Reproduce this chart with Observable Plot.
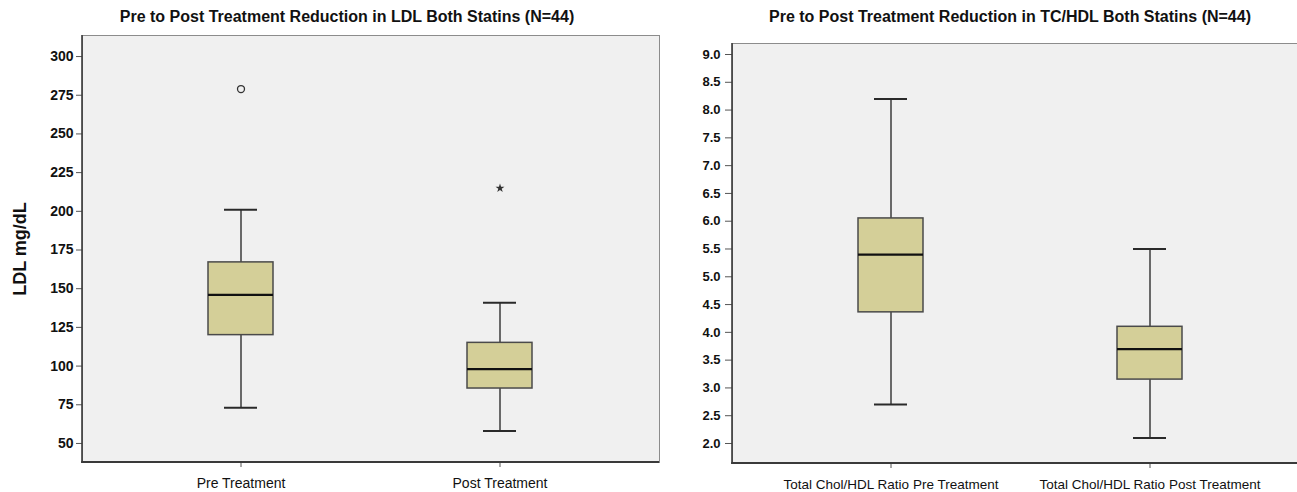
<!DOCTYPE html>
<html><head><meta charset="utf-8">
<script src="https://cdn.jsdelivr.net/npm/d3@7"></script>
<script src="https://cdn.jsdelivr.net/npm/@observablehq/plot@0.6"></script>
<style>
body{margin:0;width:1297px;height:492px;overflow:hidden;background:#fff;font-family:"Liberation Sans",Arial,sans-serif;position:relative}
.panel{position:absolute;top:0;height:492px}
.panel svg{max-width:none !important}
.title{position:absolute;top:8px;font-weight:bold;font-size:16px;color:#111;transform:translateX(-50%);white-space:nowrap}
</style></head><body>
<div id="left" class="panel" style="left:0;width:665px"></div>
<div id="right" class="panel" style="left:665px;width:645px"></div>
<div class="title" style="left:347px">Pre to Post Treatment Reduction in LDL Both Statins (N=44)</div>
<div class="title" style="left:1010px">Pre to Post Treatment Reduction in TC/HDL Both Statins (N=44)</div>
<script>
// ---- LDL panel data ----
const ldlCategories = ["Pre Treatment", "Post Treatment"];
const ldlLow    = [73, 58];
const ldlQ1     = [120, 85.5];
const ldlMedian = [146, 98];
const ldlQ3     = [167, 115];
const ldlHigh   = [201, 141];
const ldlOutlierCategory = ["Pre Treatment", "Post Treatment"];
const ldlOutlierValue    = [279, 215];
const ldlOutlierKind     = ["circle", "star"];
const ldlTicks = [50, 75, 100, 125, 150, 175, 200, 225, 250, 275, 300];
const ldlLabel = "LDL mg/dL";

// ---- TC/HDL panel data ----
const ratioCategories = ["Total Chol/HDL Ratio Pre Treatment", "Total Chol/HDL Ratio Post Treatment"];
const ratioLow    = [2.7, 2.1];
const ratioQ1     = [4.36, 3.15];
const ratioMedian = [5.4, 3.7];
const ratioQ3     = [6.05, 4.1];
const ratioHigh   = [8.2, 5.5];
const ratioTicks = [2.0, 2.5, 3.0, 3.5, 4.0, 4.5, 5.0, 5.5, 6.0, 6.5, 7.0, 7.5, 8.0, 8.5, 9.0];

function edges(index, scales, values, dim) {
  const g = d3.create("svg:g");
  const x0 = dim.marginLeft, x1 = dim.width - dim.marginRight;
  const y0 = dim.marginTop, y1 = dim.height - dim.marginBottom;
  g.append("line").attr("x1", x0).attr("x2", x0).attr("y1", y0).attr("y2", y1 + 1)
    .attr("stroke", "#3a3a3a").attr("stroke-width", 1.6);
  g.append("line").attr("x1", x0 - 0.8).attr("x2", x1).attr("y1", y1).attr("y2", y1)
    .attr("stroke", "#3a3a3a").attr("stroke-width", 2);
  return g.node();
}

function boxPanel(o) {
  const rows = o.cats.map((c, i) => ({cat: c, lo: o.lo[i], q1: o.q1[i], med: o.med[i], q3: o.q3[i], hi: o.hi[i]}));
  const outs = (o.outCat || []).map((c, i) => ({cat: c, v: o.outVal[i], kind: o.outKind[i]}));
  const marks = [
    Plot.frame({fill: "#f0f0f0", stroke: "#8c8c8c"}),
    Plot.ruleX(rows, {x: "cat", y1: "lo", y2: "q1", stroke: "#3c3c3c", strokeWidth: 1.5}),
    Plot.ruleX(rows, {x: "cat", y1: "q3", y2: "hi", stroke: "#3c3c3c", strokeWidth: 1.5}),
    Plot.tickY(rows, {x: "cat", y: "lo", insetLeft: 16, insetRight: 16, stroke: "#2a2a2a", strokeWidth: 2}),
    Plot.tickY(rows, {x: "cat", y: "hi", insetLeft: 16, insetRight: 16, stroke: "#2a2a2a", strokeWidth: 2}),
    Plot.barY(rows, {x: "cat", y1: "q1", y2: "q3", fill: "#d4cf98", stroke: "#4a4a4a", strokeWidth: 1.5}),
    Plot.tickY(rows, {x: "cat", y: "med", stroke: "#111", strokeWidth: 2.3}),
    Plot.dot(outs.filter(d => d.kind === "circle"), {x: "cat", y: "v", r: 3.5, stroke: "#333", strokeWidth: 1.3, fill: "none"}),
    Plot.dot(outs.filter(d => d.kind === "star"), {x: "cat", y: "v", r: 2.8, symbol: "star", fill: "#333", stroke: "none"}),
    Plot.axisY({ticks: o.ticks, tickFormat: o.fmt, tickSize: o.tickSize, tickPadding: o.tickPadding, fontSize: o.yFont, fontWeight: "bold", stroke: "#555", label: null}),
    Plot.axisX({tickSize: 5, tickPadding: 11, fontSize: o.xFont, stroke: "#555", label: null}),
    edges
  ];
  if (o.yLabel) marks.push(Plot.text([o.yLabel], {frameAnchor: "left", textAnchor: "middle", rotate: -90, dx: -62, fontSize: 18, fontWeight: "bold", fill: "#111"}));
  return Plot.plot({
    width: o.width, height: 492,
    marginLeft: o.marginLeft, marginRight: o.marginRight, marginTop: o.marginTop, marginBottom: o.marginBottom,
    style: {fontFamily: "'Liberation Sans', Arial, sans-serif", color: "#111", background: "transparent", overflow: "visible"},
    x: {type: "band", domain: o.cats, paddingInner: o.pi, paddingOuter: o.po, label: null},
    y: {domain: o.yDomain, label: null},
    marks
  });
}

document.getElementById("left").append(boxPanel({
  cats: ldlCategories, lo: ldlLow, q1: ldlQ1, med: ldlMedian, q3: ldlQ3, hi: ldlHigh,
  outCat: ldlOutlierCategory, outVal: ldlOutlierValue, outKind: ldlOutlierKind,
  ticks: ldlTicks, fmt: d => d3.format("d")(d), tickSize: 6, tickPadding: 3, yFont: 14, xFont: 14,
  yDomain: [37.7, 313.6], width: 665, marginLeft: 82, marginRight: 6, marginTop: 35, marginBottom: 30,
  pi: 0.749, po: 0.4865, yLabel: ldlLabel
}));

document.getElementById("right").append(boxPanel({
  cats: ratioCategories, lo: ratioLow, q1: ratioQ1, med: ratioMedian, q3: ratioQ3, hi: ratioHigh,
  ticks: ratioTicks, fmt: d => d.toFixed(1), tickSize: 7, tickPadding: 5, yFont: 13, xFont: 13.5,
  yDomain: [1.64, 9.198], width: 645, marginLeft: 67, marginRight: 2, marginTop: 43, marginBottom: 29,
  pi: 0.75, po: 0.4846
}));
</script>
</body></html>
